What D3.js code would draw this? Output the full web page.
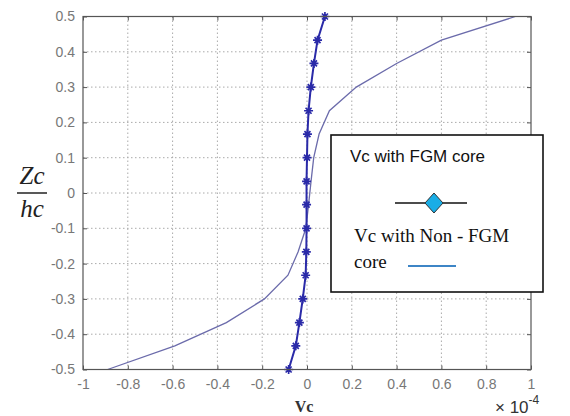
<!DOCTYPE html>
<meta charset="utf-8">
<style>
body { margin: 0; background: #fff; }
svg { font-family: "Liberation Sans", Arial, sans-serif; }
.tick text { fill: #777; font-size: 14px; }
</style>
<svg width="570" height="416"></svg>
<script src="https://cdn.jsdelivr.net/npm/d3@7"></script>
<script>

// height levels Zc/hc, shared by both curves
var zLevels = [0.5, 0.433, 0.367, 0.3, 0.233, 0.167, 0.1, 0.033, -0.033, -0.1, -0.167, -0.233, -0.3, -0.367, -0.433, -0.5];
// Vc (x 1e-4)
var fgmVc = [0.08, 0.047, 0.031, 0.017, 0.007, 0.002, 0.0, -0.002, -0.002, -0.002, -0.003, -0.006, -0.019, -0.034, -0.05, -0.082];
var nonFgmVc = [0.93, 0.60, 0.40, 0.22, 0.10, 0.054, 0.03, 0.018, 0.007, -0.005, -0.04, -0.085, -0.19, -0.36, -0.59, -0.89];

var xTicks = [-1, -0.8, -0.6, -0.4, -0.2, 0, 0.2, 0.4, 0.6, 0.8, 1];
var yTicks = [-0.5, -0.4, -0.3, -0.2, -0.1, 0, 0.1, 0.2, 0.3, 0.4, 0.5];

var svg = d3.select("svg");
// note: "top" is reserved on window, so use pTop/pBottom
var pLeft = 83, pRight = 531, pTop = 16.5, pBottom = 369.5;

var x = d3.scaleLinear().domain([-1, 1]).range([pLeft, pRight]);
var y = d3.scaleLinear().domain([-0.5, 0.5]).range([pBottom, pTop]);

var fmt = function(d) { return String(+d.toFixed(1)); };

// dotted grid
var grid = svg.append("g").attr("stroke", "#aaa").attr("stroke-dasharray", "1.5,2.5");
grid.selectAll(".gx").data(xTicks.slice(1, -1)).enter().append("line")
    .attr("x1", x).attr("x2", x).attr("y1", pTop).attr("y2", pBottom);
grid.selectAll(".gy").data(yTicks.slice(1, -1)).enter().append("line")
    .attr("y1", y).attr("y2", y).attr("x1", pLeft).attr("x2", pRight);

var lineGen = d3.line()
    .x(function(d) { return x(d[0]); })
    .y(function(d) { return y(d[1]); });

var nonFgm = nonFgmVc.map(function(v, i) { return [v, zLevels[i]]; });
var fgm = fgmVc.map(function(v, i) { return [v, zLevels[i]]; });

svg.append("path").datum(nonFgm)
    .attr("d", lineGen)
    .attr("fill", "none")
    .attr("stroke", "#6b6bab")
    .attr("stroke-width", 1.3);

svg.append("path").datum(fgm)
    .attr("d", lineGen)
    .attr("fill", "none")
    .attr("stroke", "#2a2aa8")
    .attr("stroke-width", 2);

// asterisk markers
var mk = svg.append("g").attr("stroke", "#2a2aa8").attr("stroke-width", 1.7);
mk.selectAll("path").data(fgm).enter().append("path")
    .attr("transform", function(d) { return "translate(" + x(d[0]) + "," + y(d[1]) + ")"; })
    .attr("d", "M-4.5,0H4.5M0,-4.5V4.5M-3,-3L3,3M-3,3L3,-3");

// axes with inward ticks on all sides
function styleAxis(g) {
  g.select(".domain").remove();
  g.selectAll(".tick line").attr("stroke", "#555");
}
svg.append("g").attr("transform", "translate(0," + pBottom + ")")
    .call(d3.axisBottom(x).tickValues(xTicks).tickFormat(fmt).tickSizeInner(-4).tickPadding(10))
    .call(styleAxis);
svg.append("g").attr("transform", "translate(0," + pTop + ")")
    .call(d3.axisTop(x).tickValues(xTicks).tickFormat("").tickSizeInner(-4))
    .call(styleAxis);
svg.append("g").attr("transform", "translate(" + pLeft + ",0)")
    .call(d3.axisLeft(y).tickValues(yTicks).tickFormat(fmt).tickSizeInner(-4).tickPadding(8))
    .call(styleAxis);
svg.append("g").attr("transform", "translate(" + pRight + ",0)")
    .call(d3.axisRight(y).tickValues(yTicks).tickFormat("").tickSizeInner(-4))
    .call(styleAxis);

svg.append("rect")
    .attr("x", pLeft).attr("y", pTop)
    .attr("width", pRight - pLeft).attr("height", pBottom - pTop)
    .attr("fill", "none").attr("stroke", "#555").attr("stroke-width", 1.2);

// y label as fraction
svg.append("text").attr("x", 32).attr("y", 184).attr("text-anchor", "middle")
    .attr("font-family", "Liberation Serif").attr("font-style", "italic")
    .attr("font-size", 25).attr("fill", "#222").text("Zc");
svg.append("line").attr("x1", 17).attr("x2", 47).attr("y1", 193).attr("y2", 193)
    .attr("stroke", "#222").attr("stroke-width", 1.5);
svg.append("text").attr("x", 32).attr("y", 217).attr("text-anchor", "middle")
    .attr("font-family", "Liberation Serif").attr("font-style", "italic")
    .attr("font-size", 25).attr("fill", "#222").text("hc");

// x label
svg.append("text").attr("x", 304).attr("y", 412).attr("text-anchor", "middle")
    .attr("font-family", "Liberation Serif").attr("font-weight", "bold")
    .attr("font-size", 16).attr("fill", "#333").text("Vc");

var ex = svg.append("text").attr("x", 495).attr("y", 413)
    .attr("font-size", 17).attr("fill", "#333");
ex.append("tspan").text("\u00d7 10");
ex.append("tspan").attr("font-size", 12).attr("dy", -9).text("-4");

// legend
var lg = svg.append("g");
lg.append("rect").attr("x", 331).attr("y", 135).attr("width", 212).attr("height", 157)
    .attr("fill", "#fff").attr("stroke", "#111").attr("stroke-width", 1.6);
lg.append("text").attr("x", 350).attr("y", 162).attr("font-size", 17).attr("fill", "#111")
    .text("Vc with FGM core");
lg.append("line").attr("x1", 395).attr("x2", 467).attr("y1", 203).attr("y2", 203)
    .attr("stroke", "#111").attr("stroke-width", 1.5);
lg.append("path").attr("transform", "translate(434,203)")
    .attr("d", "M0,-10L9,0L0,10L-9,0Z")
    .attr("fill", "#19ade6").attr("stroke", "#333").attr("stroke-width", 1);
lg.append("text").attr("x", 354).attr("y", 242).attr("font-family", "Liberation Serif")
    .attr("font-size", 19).attr("fill", "#111").text("Vc with Non - FGM");
lg.append("text").attr("x", 354).attr("y", 268).attr("font-family", "Liberation Serif")
    .attr("font-size", 19).attr("fill", "#111").text("core");
lg.append("line").attr("x1", 408).attr("x2", 456).attr("y1", 266).attr("y2", 266)
    .attr("stroke", "#3d85c6").attr("stroke-width", 2);

</script>
